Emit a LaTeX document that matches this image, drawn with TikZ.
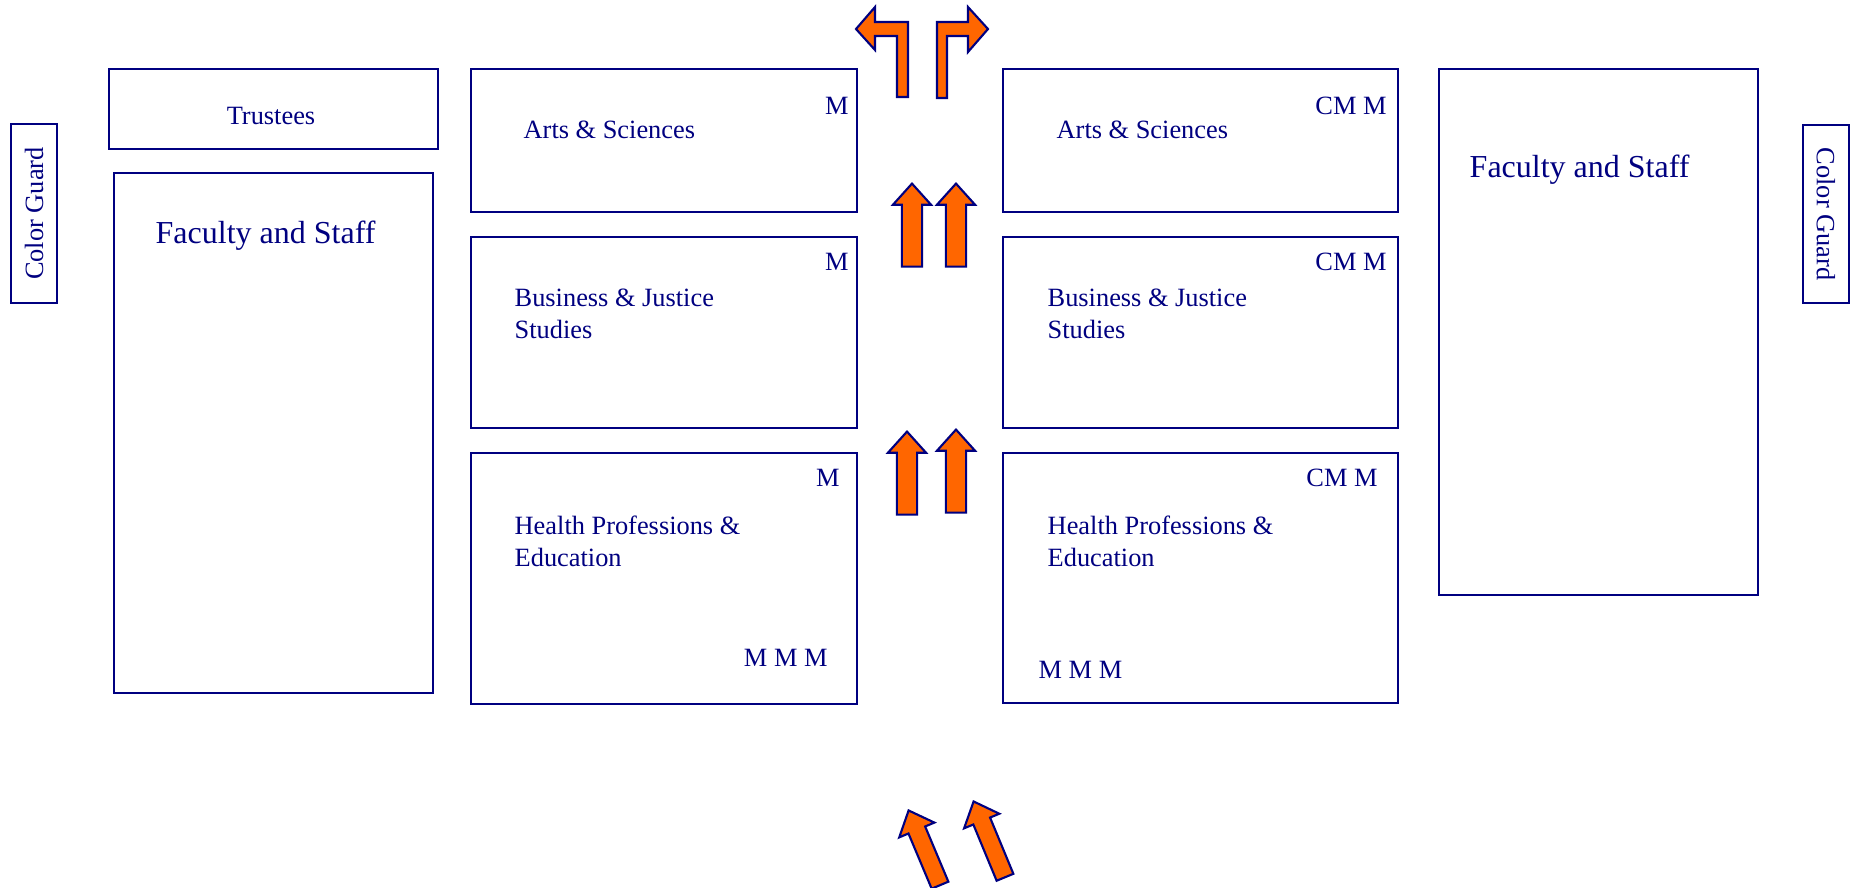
\documentclass[tikz,border=0pt]{standalone}
\usepackage{fontspec}
\setmainfont{Liberation Serif}
\usetikzlibrary{shapes.arrows}
\definecolor{navy}{RGB}{0,0,128}
\definecolor{procorange}{RGB}{255,102,0}
\begin{document}
\begin{tikzpicture}
[x=0.01cm,y=-0.01cm,
 box/.style={draw=navy,line width=0.6pt,inner sep=0,outer sep=0,anchor=north west},
 txt/.style={text=navy,inner sep=0,align=left,font=\fontsize{7.5}{9.1}\selectfont},
 big/.style={txt,font=\fontsize{9.1}{11}\selectfont},
 uparrow/.style={single arrow,draw=navy,fill=procorange,line width=0.6pt,inner sep=0.9mm,
   minimum height=8.3mm,single arrow head extend=0.9mm,
   single arrow tip angle=84,anchor=tip},
 turn/.style={draw=navy,fill=procorange,line width=0.6pt}]

  \useasboundingbox (0,0) rectangle (1856,887);

  % left side
  \node[box,minimum width=4.6mm,minimum height=17.9mm] (guardL) at (11,124) {};
  \node[txt,rotate=90] (guardLtext) at (guardL.center) {Color Guard};
  \node[box,minimum width=32.9mm,minimum height=8mm] (trustees) at (109,69) {};
  \node[txt,anchor=base] (trusteesText) at (271,124) {Trustees};
  \node[box,minimum width=31.9mm,minimum height=52mm] (staffL) at (114,173) {};
  \node[big,anchor=base west] (staffLtext) at ([shift={(41,70)}]staffL.north west) {Faculty and Staff};

  % first column of schools
  \node[box,minimum width=38.6mm,minimum height=14.3mm] (as1) at (471,69) {};
  \node[txt,anchor=base east] (as1m) at ([shift={(-8,45)}]as1.north east) {M};
  \node[txt,anchor=base west] (as1text) at ([shift={(52,69)}]as1.north west) {Arts \& Sciences};
  \node[box,minimum width=38.6mm,minimum height=19.1mm] (bj1) at (471,237) {};
  \node[txt,anchor=base east] (bj1m) at ([shift={(-8,33)}]bj1.north east) {M};
  \node[txt,anchor=base west] (bj1text) at ([shift={(43,101)}]bj1.north west) {Business \& Justice\\Studies};
  \node[box,minimum width=38.6mm,minimum height=25.1mm] (hp1) at (471,453) {};
  \node[txt,anchor=base east] (hp1m) at ([shift={(-17,33)}]hp1.north east) {M};
  \node[txt,anchor=base west] (hp1text) at ([shift={(43,113)}]hp1.north west) {Health Professions \&\\Education};
  \node[txt,anchor=base east] (hp1mmm) at ([shift={(-29,213)}]hp1.north east) {M M M};

  % second column of schools
  \node[box,minimum width=39.5mm,minimum height=14.3mm] (as2) at (1003,69) {};
  \node[txt,anchor=base east] (as2m) at ([shift={(-11,45)}]as2.north east) {CM M};
  \node[txt,anchor=base west] (as2text) at ([shift={(53,69)}]as2.north west) {Arts \& Sciences};
  \node[box,minimum width=39.5mm,minimum height=19.1mm] (bj2) at (1003,237) {};
  \node[txt,anchor=base east] (bj2m) at ([shift={(-11,33)}]bj2.north east) {CM M};
  \node[txt,anchor=base west] (bj2text) at ([shift={(44,101)}]bj2.north west) {Business \& Justice\\Studies};
  \node[box,minimum width=39.5mm,minimum height=25mm] (hp2) at (1003,453) {};
  \node[txt,anchor=base east] (hp2m) at ([shift={(-20,33)}]hp2.north east) {CM M};
  \node[txt,anchor=base west] (hp2text) at ([shift={(44,113)}]hp2.north west) {Health Professions \&\\Education};
  \node[txt,anchor=base west] (hp2mmm) at ([shift={(35,225)}]hp2.north west) {M M M};

  % right side
  \node[box,minimum width=31.9mm,minimum height=52.6mm] (staffR) at (1439,69) {};
  \node[big,anchor=base west] (staffRtext) at ([shift={(30,108)}]staffR.north west) {Faculty and Staff};
  \node[box,minimum width=4.6mm,minimum height=17.8mm] (guardR) at (1803,125) {};
  \node[txt,rotate=-90] (guardRtext) at (guardR.center) {Color Guard};

  % aisle arrows
  \foreach \x/\y [count=\i] in {912/182,956/182,907/430,956/428}
    \node[uparrow,rotate=90] (up\i) at (\x,\y) {};
  \node[uparrow,rotate=112.8,inner sep=0.8mm,minimum height=8.1mm,single arrow head extend=1mm] (in1) at (908,809) {};
  \node[uparrow,rotate=112.5,inner sep=0.8mm,minimum height=8.2mm,single arrow head extend=1mm] (in2) at (973,800) {};

  % turning off at the front
  \draw[turn] (908,97) -- (908,22) -- (875,22) -- (875,7) -- (856,29) -- (875,50)
    -- (875,36) -- (897,36) -- (897,97) -- cycle;
  \draw[turn] (937,98) -- (937,22) -- (968,22) -- (968,7) -- (988,29) -- (968,52)
    -- (968,36) -- (947,36) -- (947,98) -- cycle;
\end{tikzpicture}
\end{document}
